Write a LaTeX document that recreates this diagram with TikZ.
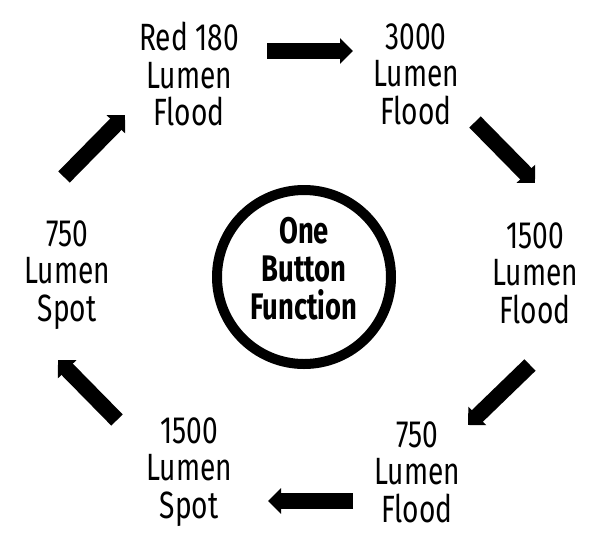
\documentclass[tikz,border=0pt]{standalone}
\usepackage{fontspec}
\setmainfont[FakeStretch=0.74]{Fira Sans}
\usetikzlibrary{arrows.meta}
\begin{document}
\begin{tikzpicture}[x=1pt,y=-1pt,
  lbl/.style={align=center,font=\fontsize{38}{37.5}\selectfont,inner sep=0pt},
  ctr/.style={align=center,font=\fontsize{37}{38}\selectfont\bfseries,inner sep=0pt},
  bigarrow/.style={line width=16pt,-{Triangle[width=25pt,length=13pt]}},
  ring/.style={circle,draw,line width=10pt,minimum size=174pt,inner sep=0pt}]
\useasboundingbox (0,0) rectangle (600,558);
% labels
\node[lbl] (red)   at (189,74)  {Red 180\\Lumen\\Flood};
\node[lbl] (f3000) at (416,74)  {3000\\Lumen\\Flood};
\node[lbl] (f1500) at (535,273) {1500\\Lumen\\Flood};
\node[lbl] (f750)  at (417,472) {750\\Lumen\\Flood};
\node[lbl] (s1500) at (189,472) {1500\\Lumen\\Spot};
\node[lbl] (s750)  at (67,275)  {750\\Lumen\\Spot};
% center
\node[ring] (ring) at (304,277) {};
\node[ctr] (fn) at (304,269) {One\\Button\\Function};
% arrow end points
\coordinate (a1s) at (267,51);  \coordinate (a1e) at (353,51);
\coordinate (a2s) at (475,122); \coordinate (a2e) at (535,183);
\coordinate (a3s) at (530,365); \coordinate (a3e) at (468,425);
\coordinate (a4s) at (353,501); \coordinate (a4e) at (268,501);
\coordinate (a5s) at (117,420); \coordinate (a5e) at (58,360);
\coordinate (a6s) at (64,177);  \coordinate (a6e) at (125,115);
\draw[bigarrow] (a1s) -- (a1e);
\draw[bigarrow] (a2s) -- (a2e);
\draw[bigarrow] (a3s) -- (a3e);
\draw[bigarrow] (a4s) -- (a4e);
\draw[bigarrow] (a5s) -- (a5e);
\draw[bigarrow] (a6s) -- (a6e);
\end{tikzpicture}
\end{document}
